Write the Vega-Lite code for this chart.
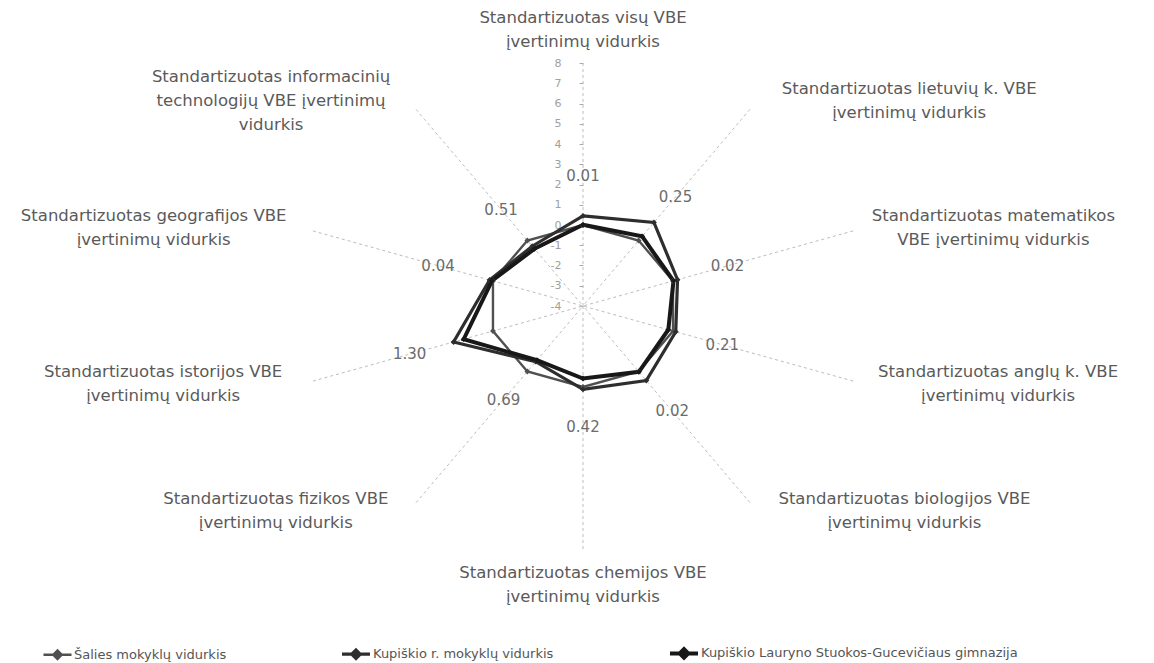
{
  "$schema": "https://vega.github.io/schema/vega-lite/v6.json",
  "width": 568,
  "height": 486,
  "autosize": "none",
  "padding": {"left": 299, "top": 63, "right": 287, "bottom": 114},
  "background": "white",
  "config": {"view": {"stroke": null}, "font": "DejaVu Sans"},
  "datasets": {
    "scores": [
      {"series": "Šalies mokyklų vidurkis", "axis": "visų", "value": 0},
      {"series": "Šalies mokyklų vidurkis", "axis": "lietuvių", "value": 0},
      {"series": "Šalies mokyklų vidurkis", "axis": "matematikos", "value": 0},
      {"series": "Šalies mokyklų vidurkis", "axis": "anglų", "value": 0},
      {"series": "Šalies mokyklų vidurkis", "axis": "biologijos", "value": 0},
      {"series": "Šalies mokyklų vidurkis", "axis": "chemijos", "value": 0},
      {"series": "Šalies mokyklų vidurkis", "axis": "fizikos", "value": 0},
      {"series": "Šalies mokyklų vidurkis", "axis": "istorijos", "value": 0},
      {"series": "Šalies mokyklų vidurkis", "axis": "geografijos", "value": 0},
      {"series": "Šalies mokyklų vidurkis", "axis": "informacinių", "value": 0},
      {"series": "Kupiškio r. mokyklų vidurkis", "axis": "visų", "value": 0.45},
      {"series": "Kupiškio r. mokyklų vidurkis", "axis": "lietuvių", "value": 1.1},
      {"series": "Kupiškio r. mokyklų vidurkis", "axis": "matematikos", "value": 0.2},
      {"series": "Kupiškio r. mokyklų vidurkis", "axis": "anglų", "value": 0.12},
      {"series": "Kupiškio r. mokyklų vidurkis", "axis": "biologijos", "value": 0.55},
      {"series": "Kupiškio r. mokyklų vidurkis", "axis": "chemijos", "value": 0.12},
      {"series": "Kupiškio r. mokyklų vidurkis", "axis": "fizikos", "value": -0.6},
      {"series": "Kupiškio r. mokyklų vidurkis", "axis": "istorijos", "value": 1.75},
      {"series": "Kupiškio r. mokyklų vidurkis", "axis": "geografijos", "value": 0.15},
      {"series": "Kupiškio r. mokyklų vidurkis", "axis": "informacinių", "value": -0.35},
      {"series": "Kupiškio Lauryno Stuokos-Gucevičiaus gimnazija", "axis": "visų", "value": 0.01},
      {"series": "Kupiškio Lauryno Stuokos-Gucevičiaus gimnazija", "axis": "lietuvių", "value": 0.25},
      {"series": "Kupiškio Lauryno Stuokos-Gucevičiaus gimnazija", "axis": "matematikos", "value": 0.02},
      {"series": "Kupiškio Lauryno Stuokos-Gucevičiaus gimnazija", "axis": "anglų", "value": -0.21},
      {"series": "Kupiškio Lauryno Stuokos-Gucevičiaus gimnazija", "axis": "biologijos", "value": 0.02},
      {"series": "Kupiškio Lauryno Stuokos-Gucevičiaus gimnazija", "axis": "chemijos", "value": -0.42},
      {"series": "Kupiškio Lauryno Stuokos-Gucevičiaus gimnazija", "axis": "fizikos", "value": -0.69},
      {"series": "Kupiškio Lauryno Stuokos-Gucevičiaus gimnazija", "axis": "istorijos", "value": 1.3},
      {"series": "Kupiškio Lauryno Stuokos-Gucevičiaus gimnazija", "axis": "geografijos", "value": 0.04},
      {"series": "Kupiškio Lauryno Stuokos-Gucevičiaus gimnazija", "axis": "informacinių", "value": -0.51}
    ],
    "axes": [
      {"axis": "visų", "label": ["Standartizuotas visų VBE", "įvertinimų vidurkis"]},
      {"axis": "lietuvių", "label": ["Standartizuotas lietuvių k. VBE", "įvertinimų vidurkis"]},
      {"axis": "matematikos", "label": ["Standartizuotas matematikos", "VBE įvertinimų vidurkis"]},
      {"axis": "anglų", "label": ["Standartizuotas anglų k. VBE", "įvertinimų vidurkis"]},
      {"axis": "biologijos", "label": ["Standartizuotas biologijos VBE", "įvertinimų vidurkis"]},
      {"axis": "chemijos", "label": ["Standartizuotas chemijos VBE", "įvertinimų vidurkis"]},
      {"axis": "fizikos", "label": ["Standartizuotas fizikos VBE", "įvertinimų vidurkis"]},
      {"axis": "istorijos", "label": ["Standartizuotas istorijos VBE", "įvertinimų vidurkis"]},
      {"axis": "geografijos", "label": ["Standartizuotas geografijos VBE", "įvertinimų vidurkis"]},
      {"axis": "informacinių", "label": ["Standartizuotas informacinių", "technologijų VBE įvertinimų", "vidurkis"]}
    ]
  },
  "encoding": {
    "x": {"field": "px", "type": "quantitative", "scale": {"domain": [-12, 12], "nice": false, "zero": false}, "axis": null},
    "y": {"field": "py", "type": "quantitative", "scale": {"domain": [-12, 12], "nice": false, "zero": false},
      "axis": {"values": [0,1,2,3,4,5,6,7,8,9,10,11,12], "labelExpr": "datum.value - 4", "offset": -284, "domain": false, "grid": false, "tickSize": 4, "tickColor": "#aaaaaa", "labelColor": "#a0a0a0", "labelFont": "DejaVu Sans", "labelFontSize": 11, "labelPadding": 18, "title": null}}
  },
  "layer": [
    {
      "data": {"name": "axes"},
      "transform": [
        {"calculate": "indexof(['visų','lietuvių','matematikos','anglų','biologijos','chemijos','fizikos','istorijos','geografijos','informacinių'], datum.axis) * PI / 5", "as": "a"},
        {"calculate": "12 * sin(datum.a)", "as": "px"},
        {"calculate": "12 * cos(datum.a)", "as": "py"}
      ],
      "mark": {"type": "rule", "strokeDash": [3, 3], "color": "#bdbdbd", "strokeWidth": 1},
      "encoding": {"x2": {"datum": 0}, "y2": {"datum": 0}}
    },
    {
      "data": {"name": "scores"},
      "transform": [
        {"calculate": "indexof(['visų','lietuvių','matematikos','anglų','biologijos','chemijos','fizikos','istorijos','geografijos','informacinių'], datum.axis)", "as": "idx"},
        {"calculate": "(datum.value + 4) * sin(datum.idx * PI / 5)", "as": "px"},
        {"calculate": "(datum.value + 4) * cos(datum.idx * PI / 5)", "as": "py"}
      ],
      "mark": {"type": "line", "interpolate": "linear-closed", "point": {"filled": true, "shape": "diamond", "size": 34}},
      "encoding": {
        "order": {"field": "idx", "type": "quantitative"},
        "color": {"field": "series", "type": "nominal",
          "scale": {"domain": ["Šalies mokyklų vidurkis", "Kupiškio r. mokyklų vidurkis", "Kupiškio Lauryno Stuokos-Gucevičiaus gimnazija"], "range": ["#505050", "#2e2e2e", "#181818"]},
          "legend": {"orient": "none", "legendX": -257, "legendY": 574, "direction": "horizontal", "title": null,
            "labelFont": "DejaVu Sans", "labelFontSize": 13, "labelColor": "#555555", "labelLimit": 400,
            "symbolType": "M-1,0H1M-0.3,0L0,-0.3L0.3,0L0,0.3Z", "symbolSize": 784, "symbolStrokeWidth": 3.5,
            "columnPadding": 108, "labelOffset": 1,
            "encode": {"symbols": {"update": {"fill": {"scale": "color", "field": "value"}}}}}
        },
        "strokeWidth": {"field": "series", "type": "nominal",
          "scale": {"domain": ["Šalies mokyklų vidurkis", "Kupiškio r. mokyklų vidurkis", "Kupiškio Lauryno Stuokos-Gucevičiaus gimnazija"], "range": [2.4, 4, 4.5]},
          "legend": null}
      }
    },
    {
      "data": {"name": "scores"},
      "transform": [
        {"filter": "datum.series === 'Kupiškio Lauryno Stuokos-Gucevičiaus gimnazija'"},
        {"calculate": "indexof(['visų','lietuvių','matematikos','anglų','biologijos','chemijos','fizikos','istorijos','geografijos','informacinių'], datum.axis)", "as": "idx"},
        {"calculate": "(datum.value + 6.4) * sin(datum.idx * PI / 5)", "as": "px"},
        {"calculate": "(datum.value + 6.4) * cos(datum.idx * PI / 5)", "as": "py"},
        {"calculate": "format(abs(datum.value), '.2f')", "as": "txt"}
      ],
      "mark": {"type": "text", "fontSize": 15, "color": "#6c6c6c", "align": "center", "baseline": "middle"},
      "encoding": {"text": {"field": "txt"}}
    },
    {
      "data": {"name": "axes"},
      "transform": [
        {"calculate": "indexof(['visų','lietuvių','matematikos','anglų','biologijos','chemijos','fizikos','istorijos','geografijos','informacinių'], datum.axis) * PI / 5", "as": "a"},
        {"calculate": "max(length(datum.label[0]), length(datum.label[1]), datum.label.length > 2 ? length(datum.label[2]) : 0) * 4.75", "as": "hw"},
        {"calculate": "abs(sin(datum.a)) < 0.1 ? 0 : 12 * sin(datum.a) + (sin(datum.a) > 0 ? 1 : -1) * (12 + datum.hw) * 24 / 568", "as": "px"},
        {"calculate": "(abs(sin(datum.a)) < 0.1 ? (cos(datum.a) > 0 ? 13.63 : -13.78) : 12.5 * cos(datum.a)) + (datum.label.length - 1) * 12 * 24 / 486", "as": "py"}
      ],
      "mark": {"type": "text", "fontSize": 16.5, "lineHeight": 24, "color": "#5a5a5a", "align": "center", "baseline": "middle"},
      "encoding": {"text": {"field": "label"}}
    }
  ]
}
